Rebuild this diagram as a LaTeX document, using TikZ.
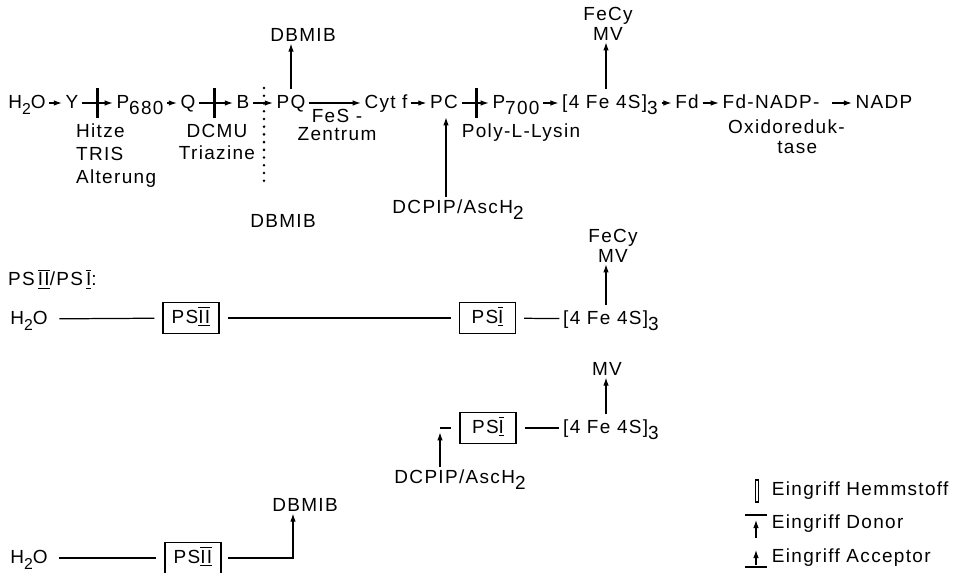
\documentclass[tikz,border=0pt]{standalone}
\usepackage{fontspec}
\setmainfont[LetterSpace=7]{Liberation Sans}
\usetikzlibrary{arrows.meta}
\newcommand{\lowr}[1]{\raisebox{-3.5pt}{#1}}
\newcommand{\rn}[1]{$\overline{\underline{\hbox{#1}}}$}
\tikzset{
  item/.style={inner sep=2pt,text height=9pt,text depth=3pt},
  lbl/.style={align=center,inner sep=1pt},
  psbox/.style={draw,line width=0.8pt,minimum width=1.12cm,minimum height=0.62cm,inner sep=2pt,
                text height=9pt,text depth=3pt},
  arr/.style={-{Latex[length=1.6mm,width=1.1mm]},line width=0.6pt},
  link/.style={line width=0.7pt,shorten <=4.5pt,shorten >=4.5pt},
  hemm/.style={draw,fill=white,line width=0.9pt,minimum width=0.6pt,minimum height=0.56cm,inner sep=0pt},
  cut/.style={line width=1.6pt,line cap=round,dash pattern=on 0pt off 4.4pt},
}
\begin{document}
\begin{tikzpicture}[x=0.02cm,y=-0.02cm,font=\fontsize{10.8}{13}\selectfont]
  \useasboundingbox (0,0) rectangle (961,572);
  % main chain
  \node[item] (h2o)  at (27,103)  {H\lowr{\small 2}O};
  \node[item] (y)    at (72,103)  {Y};
  \node[item] (p680) at (140,103) {P\lowr{680}};
  \node[item] (q)    at (188,103) {Q};
  \node[item] (b)    at (243,103) {B};
  \node[item] (pq)   at (291,103) {PQ};
  \node[item] (cyt)  at (386,103) {Cyt f};
  \node[item] (pc)   at (444,103) {PC};
  \node[item] (p700) at (516,103) {P\lowr{700}};
  \node[item] (fes)  at (610,103) {[4 Fe 4S]\lowr{3}};
  \node[item] (fd)   at (687,103) {Fd};
  \node[item] (fdn)  at (771,103) {Fd-NADP-};
  \node[item] (nadp) at (884,103) {NADP};
  \draw[arr] (h2o) -- (y);
  \draw[arr] (y) -- node[hemm]{} (p680);
  \draw[arr] (p680) -- (q);
  \draw[arr] (q) -- node[hemm,pos=0.45]{} (b);
  \draw[arr] (b) -- (pq);
  \draw[arr] (pq) -- (cyt);
  \draw[arr] (cyt) -- (pc);
  \draw[arr] (pc) -- node[hemm,pos=0.55]{} (p700);
  \draw[arr] (p700) -- (fes);
  \draw[arr] (fes) -- (fd);
  \draw[arr] (fd) -- (fdn);
  \draw[arr,shorten <=5pt] (fdn) -- (nadp);
  % labels under the chain
  \node[lbl,anchor=north west,align=left] (hitze) at (74,122) {Hitze\\TRIS\\Alterung};
  \node[lbl] (dcmu) at (217,142) {DCMU\\[-1pt]Triazine};
  \node[lbl] (fesz) at (337,125) {FeS -\\[-3pt]Zentrum};
  \node[lbl] (poly) at (521,133) {Poly-L-Lysin};
  \node[lbl,anchor=north west,align=left] (oxido) at (726,118) {Oxidoreduk-\\[-2pt]\hspace*{28pt}tase};
  % acceptors, donors, cut
  \node[lbl] (dbmibT) at (303,35) {DBMIB};
  \draw[arr] (pq.north) -- (pq.north |- dbmibT.south);
  \node[lbl] (acc1) at (608,24) {FeCy\\[-2pt]MV};
  \draw[arr] ([xshift=-0.08cm]fes.north) -- ([xshift=-0.08cm]fes.north |- acc1.south);
  \node[lbl,anchor=base] (dcpip) at (458,213) {DCPIP/AscH\lowr{2}};
  \draw[arr] ([xshift=0.04cm]dcpip.north -| pc) -- ([xshift=0.04cm]pc.south);
  \node[lbl] (dbmibL) at (283,221) {DBMIB};
  \coordinate (cuttop) at (264,88);
  \coordinate (cutbot) at (264,188);
  \draw[cut] (cuttop) -- (cutbot);

  % PS II / PS I
  \node[lbl,anchor=west] (pslbl) at (6,279) {PS\,\rn{II}/PS\,\rn{I}:};
  \node[item] (h2oB) at (29,319) {H\lowr{\small 2}O};
  \node[psbox] (ps2a) at (191,318) {PS\rn{II}};
  \node[psbox] (ps1a) at (487.5,318) {PS\rn{I}};
  \node[item] (fesB) at (611,319) {[4 Fe 4S]\lowr{3}};
  \draw[link] (h2oB) -- (ps2a);
  \draw[link] (ps2a) -- (ps1a);
  \draw[link,shorten >=0pt] (ps1a) -- (fesB);
  \node[lbl] (acc2) at (613,246) {FeCy\\[-2pt]MV};
  \draw[arr] ([xshift=-0.1cm]fesB.north) -- ([xshift=-0.1cm]fesB.north |- acc2.south);

  % PS I alone
  \node[psbox] (ps1b) at (488,428) {PS\rn{I}};
  \node[item] (fesC) at (611,428) {[4 Fe 4S]\lowr{3}};
  \draw[link,shorten >=0pt] (ps1b) -- (fesC);
  \node[lbl] (mv) at (607,369) {MV};
  \draw[arr] ([xshift=-0.1cm]fesC.north) -- ([xshift=-0.1cm]fesC.north |- mv.south);
  \coordinate (don) at (440,428);
  \draw[line width=0.7pt,shorten >=4.5pt] (don) -- (ps1b);
  \node[lbl,anchor=base] (dcpipB) at (460,483) {DCPIP/AscH\lowr{2}};
  \draw[arr,shorten >=2.5pt] (dcpipB.north -| don) -- (don);

  % PS II alone
  \node[item] (h2oC) at (29,558) {H\lowr{\small 2}O};
  \node[psbox] (ps2b) at (193,558) {PS\rn{II}};
  \draw[link] (h2oC) -- (ps2b);
  \node[lbl] (dbmibB) at (305,505) {DBMIB};
  \coordinate (dbend) at (293,558);
  \draw[arr,shorten <=3.5pt] (ps2b) -- (dbend) -- (dbend |- dbmibB.south);

  % legend
  \node[hemm,minimum width=1.5pt,line width=0.8pt,minimum height=0.44cm] (hsym) at (757,491) {};
  \node[item,anchor=west] (lg1) at (768,490) {Eingriff Hemmstoff};
  \draw[line width=0.6pt] (745,515) -- (767,515);
  \draw[arr] (756,538) -- (756,520);
  \node[item,anchor=west] (lg2) at (768,523) {Eingriff Donor};
  \draw[arr] (756,565) -- (756,550);
  \draw[line width=0.6pt] (745,567) -- (767,567);
  \node[item,anchor=west] (lg3) at (768,557) {Eingriff Acceptor};
\end{tikzpicture}
\end{document}
